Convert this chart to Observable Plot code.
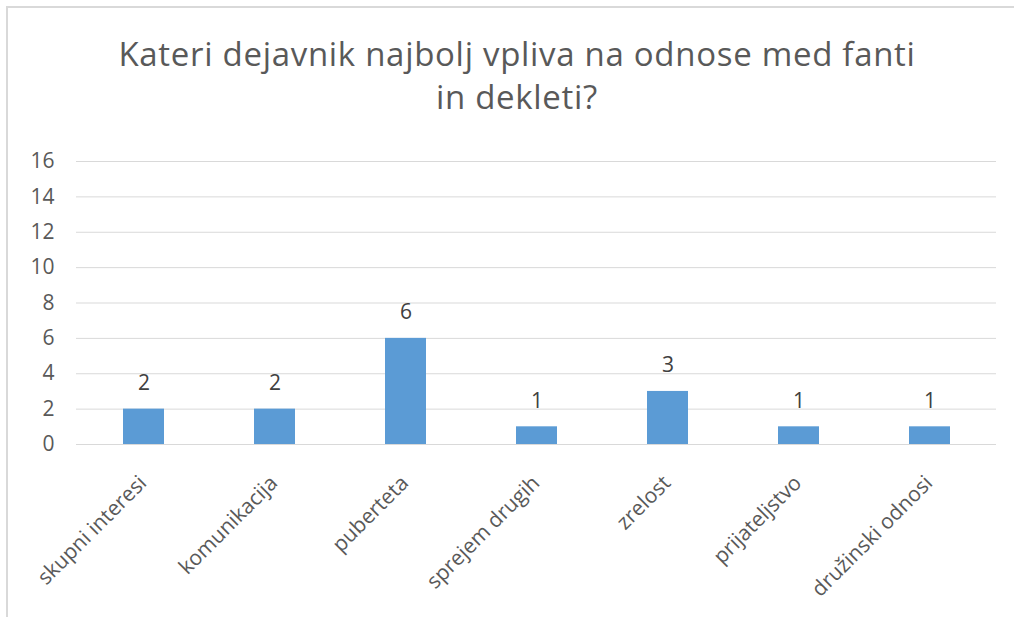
<!DOCTYPE html>
<html>
<head>
<meta charset="utf-8">
<script src="https://cdn.jsdelivr.net/npm/d3@7"></script>
<script src="https://cdn.jsdelivr.net/npm/@observablehq/plot@0.6"></script>
<style>
  html, body { margin: 0; padding: 0; background: #fff; }
  #page { position: relative; width: 1014px; height: 617px; overflow: hidden; font-family: "Open Sans", sans-serif; }
  #frame { position: absolute; left: 6px; top: 6px; width: 1100px; height: 700px; border-top: 2px solid #d9d9d9; border-left: 2px solid #d9d9d9; }
  #title { position: absolute; left: 0; top: 32px; width: 1034px; text-align: center; font-size: 33px; letter-spacing: 0.7px; line-height: 43px; color: #595959; }
  #chart { position: absolute; left: 0; top: 0; }
</style>
</head>
<body>
<div id="page">
  <div id="frame"></div>
  <div id="chart"></div>
  <div id="title">Kateri dejavnik najbolj vpliva na odnose med fanti<br>in dekleti?</div>
</div>
<script>
const categories = ["skupni interesi", "komunikacija", "puberteta", "sprejem drugih", "zrelost", "prijateljstvo", "družinski odnosi"];
const values = [2, 2, 6, 1, 3, 1, 1];
const yTicks = [0, 2, 4, 6, 8, 10, 12, 14, 16];

const data = categories.map((c, i) => ({category: c, value: values[i]}));

const chart = Plot.plot({
  width: 1014,
  height: 617,
  marginLeft: 76,
  marginRight: 18,
  marginTop: 161,
  marginBottom: 173,
  style: {fontFamily: "Open Sans", color: "#595959", background: "transparent"},
  x: {domain: categories, paddingInner: 0.69, paddingOuter: 0.345, axis: null},
  y: {domain: [0, 16], axis: null},
  marks: [
    Plot.ruleY(yTicks, {stroke: "#d9d9d9", strokeWidth: 1}),
    Plot.barY(data, {x: "category", y: "value", fill: "#5b9bd5"}),
    Plot.text(data, {x: "category", y: "value", text: d => String(d.value), dy: -26, fontSize: 21, fill: "#404040"}),
    Plot.axisY({ticks: yTicks, tickSize: 0, tickPadding: 22, fontSize: 21, label: null}),
    Plot.text(categories, {x: d => d, frameAnchor: "bottom", rotate: -45, textAnchor: "end", lineAnchor: "middle", dx: -1, dy: 35, fontSize: 21, fill: "#595959"})
  ]
});
document.getElementById("chart").appendChild(chart);
</script>
</body>
</html>
